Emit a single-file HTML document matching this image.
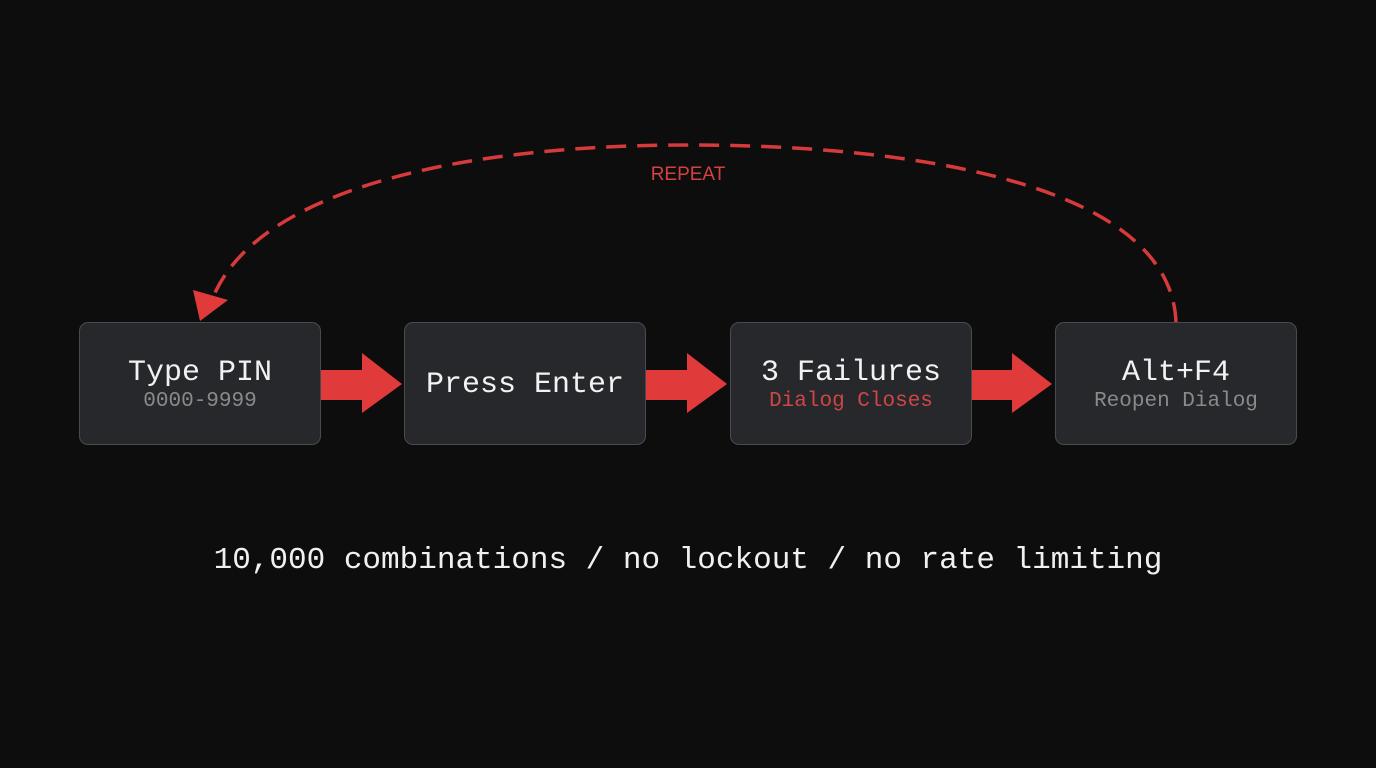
<!DOCTYPE html>
<html><head><style>
body{margin:0;width:1376px;height:768px;background:#0d0d0d;overflow:hidden;position:relative;font-family:"Liberation Mono",monospace}
.b{position:absolute;top:322px;width:242px;height:123px;background:#27282b;border:1.5px solid #4a4b4f;border-radius:9px;box-sizing:border-box;text-align:center;color:#f2f2f2}
.t{font-size:30px;line-height:34px}
.s{font-size:21px;color:#8a8a8a;line-height:24px}
</style></head><body>
<svg width="1376" height="768" style="position:absolute;left:0;top:0">
<path d="M1176 322 C1170 180 900 145 690 145 C430 145 250 200 212 300" fill="none" stroke="#d63a3a" stroke-width="3.5" stroke-dasharray="20 11"/>
<polygon points="193,290 228,300 200,321" fill="#e03a3a"/>
<g fill="#e03a3a">
<polygon points="321,370 362,370 362,353 402,384 362,413 362,400 321,400"/>
<polygon points="646,370 687,370 687,353 727,384 687,413 687,400 646,400"/>
<polygon points="971,370 1012,370 1012,353 1052,384 1012,413 1012,400 971,400"/>
</g>
<text x="688" y="180" fill="#d64040" font-family="Liberation Sans,sans-serif" font-size="19" text-anchor="middle">REPEAT</text>
</svg>
<div class="b" style="left:79px"><div class="t" style="margin-top:33px">Type PIN</div><div class="s">0000-9999</div></div>
<div class="b" style="left:404px"><div class="t" style="margin-top:45px">Press Enter</div></div>
<div class="b" style="left:730px"><div class="t" style="margin-top:33px">3 Failures</div><div class="s" style="color:#d04545">Dialog Closes</div></div>
<div class="b" style="left:1055px"><div class="t" style="margin-top:33px">Alt+F4</div><div class="s">Reopen Dialog</div></div>
<div style="position:absolute;left:0;width:1376px;top:543px;text-align:center;color:#f0f0f0;font-size:31px">10,000 combinations / no lockout / no rate limiting</div>
</body></html>
